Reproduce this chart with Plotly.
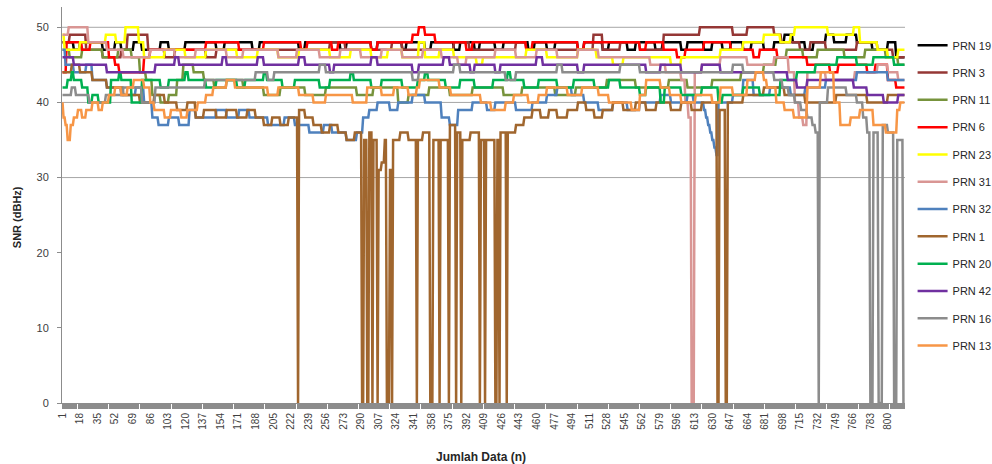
import plotly.graph_objects as go

N = 816
categories = list(range(1, N + 1))
tick_values = list(range(1, 801, 17))
tick_labels = [str(v) for v in tick_values]

# Step readings: [start index, SNR value] - value holds until the next start index
prn19_steps = [[1,48],[12,47],[18,48],[40,47],[52,48],[58,47],[70,48],[78,47],[96,48],[104,47],[120,48],[150,47],[158,48],[185,47],[192,48],[230,47],[236,48],[270,47],[276,48],[300,47],[306,48],[330,47],[334,48],[352,47],[358,48],[380,47],[386,48],[400,47],[405,48],[420,47],[428,48],[452,47],[458,48],[470,47],[478,48],[500,47],[506,48],[524,47],[530,48],[548,47],[556,48],[575,47],[582,48],[600,47],[606,48],[622,47],[630,48],[640,47],[648,48],[660,47],[668,48],[680,47],[690,48],[700,49],[708,48],[720,47],[728,48],[740,49],[748,48],[760,49],[770,48],[785,47],[800,48],[808,46]]
prn3_steps = [[1,48],[8,49],[24,47],[40,46],[58,47],[64,49],[84,47],[100,46],[110,47],[140,46],[150,47],[260,48],[275,47],[320,48],[330,47],[380,48],[395,47],[440,48],[450,47],[515,49],[524,47],[541,48],[560,47],[583,49],[618,50],[650,49],[664,50],[690,49],[697,48],[715,47],[725,48],[740,47],[770,48],[790,47],[805,46]]
prn11_steps = [[1,47],[8,46],[20,47],[40,46],[55,47],[68,46],[76,44],[82,43],[88,41],[96,40],[104,41],[112,43],[118,45],[128,44],[138,43],[148,42],[160,43],[176,42],[196,41],[212,42],[236,41],[256,42],[286,41],[302,42],[326,40],[336,41],[356,42],[376,41],[398,42],[428,41],[446,42],[478,41],[498,42],[528,43],[556,42],[588,43],[606,42],[630,43],[658,44],[680,45],[692,46],[702,47],[718,46],[732,47],[758,46],[778,47],[798,46],[810,45]]
prn6_steps = [[1,44],[5,48],[20,47],[28,48],[46,46],[52,45],[56,44],[80,46],[86,47],[140,48],[172,47],[196,48],[232,47],[238,48],[262,47],[268,48],[300,47],[306,48],[340,49],[346,50],[352,49],[362,48],[392,47],[398,48],[450,47],[456,48],[500,47],[506,48],[560,47],[566,48],[583,47],[596,46],[604,47],[622,48],[648,47],[670,46],[676,47],[693,46],[722,45],[744,44],[752,45],[780,44],[788,45],[800,43],[808,42]]
prn23_steps = [[1,49],[3,47],[18,48],[43,49],[53,48],[62,50],[75,48],[80,46],[100,47],[120,46],[140,47],[170,46],[190,47],[210,46],[230,47],[260,46],[280,47],[300,46],[316,47],[330,46],[346,48],[352,46],[366,47],[380,46],[402,45],[408,46],[450,47],[470,46],[500,47],[518,46],[534,45],[544,46],[590,45],[600,46],[638,47],[660,48],[680,49],[696,48],[706,49],[710,50],[742,49],[767,50],[773,48],[790,47],[800,46],[810,47]]
prn31_steps = [[1,49],[7,50],[26,48],[44,47],[60,46],[86,47],[110,46],[130,47],[160,46],[176,47],[210,46],[228,47],[250,46],[270,47],[290,46],[310,47],[330,46],[350,47],[368,46],[384,45],[392,46],[420,47],[440,46],[460,47],[480,46],[500,47],[520,46],[570,45],[585,44],[600,43],[604,40],[607,38],[610,0],[613,44],[620,45],[638,46],[664,45],[690,46],[704,44],[710,40],[714,38],[718,37],[722,44],[740,43],[768,44],[790,45],[800,44],[810,43]]
prn32_steps = [[1,47],[4,45],[12,44],[24,45],[30,43],[44,42],[58,41],[72,42],[80,40],[88,38],[94,37],[104,38],[114,37],[124,39],[130,38],[150,39],[160,38],[172,39],[182,38],[200,37],[216,38],[226,37],[240,36],[254,37],[262,36],[276,35],[286,36],[292,38],[298,39],[306,40],[318,39],[326,40],[340,41],[352,40],[368,38],[376,37],[384,39],[398,40],[412,39],[420,40],[440,39],[456,40],[470,41],[480,42],[494,41],[506,40],[520,39],[534,40],[548,39],[560,40],[580,41],[590,40],[606,41],[612,40],[622,39],[624,38],[626,37],[628,36],[630,35],[632,34],[634,33],[636,40],[650,41],[660,43],[670,41],[686,42],[706,41],[720,42],[740,43],[770,44],[800,43]]
prn1_steps = [[1,44],[10,45],[18,44],[30,43],[44,42],[60,41],[76,40],[90,41],[100,40],[112,39],[122,40],[130,38],[138,39],[150,38],[160,39],[170,38],[180,39],[188,38],[196,37],[204,38],[212,37],[220,38],[229,0],[230,39],[236,38],[244,37],[252,36],[260,37],[268,36],[276,35],[284,36],[291,0],[293,35],[296,0],[298,36],[301,0],[302,35],[306,0],[307,31],[310,32],[313,35],[315,0],[318,31],[320,0],[321,35],[328,36],[336,35],[344,0],[345,35],[350,36],[357,0],[360,35],[366,0],[367,35],[375,0],[376,37],[382,0],[383,36],[387,0],[388,35],[396,36],[405,0],[406,35],[410,0],[411,35],[420,0],[422,35],[424,0],[425,36],[431,0],[432,36],[440,37],[448,38],[456,39],[464,38],[472,39],[480,38],[490,39],[500,40],[508,39],[516,38],[524,39],[534,40],[544,39],[556,40],[566,39],[576,40],[590,39],[600,40],[610,39],[620,40],[635,0],[637,39],[643,0],[645,40],[660,41],[680,42],[700,41],[720,40],[750,41],[780,40],[800,41]]
prn20_steps = [[1,42],[6,43],[10,44],[12,43],[20,42],[26,40],[30,41],[36,40],[48,43],[56,44],[58,43],[68,40],[78,43],[96,42],[104,43],[120,44],[123,43],[140,42],[150,43],[170,42],[178,43],[196,44],[199,43],[214,42],[226,43],[250,42],[260,43],[280,44],[283,43],[300,42],[310,43],[330,42],[345,43],[352,44],[355,43],[372,42],[386,43],[400,42],[418,43],[432,44],[435,43],[448,42],[462,43],[480,42],[496,43],[516,42],[530,43],[541,42],[560,41],[566,42],[580,40],[584,42],[600,41],[620,42],[636,40],[640,41],[660,42],[676,41],[696,43],[712,44],[730,45],[751,46],[770,45],[786,46],[806,45]]
prn42_steps = [[1,46],[12,45],[44,44],[91,45],[110,46],[114,45],[156,46],[160,45],[190,46],[196,45],[230,46],[236,45],[260,44],[264,45],[300,46],[306,45],[340,44],[346,45],[370,46],[376,45],[396,44],[400,45],[420,44],[425,45],[460,46],[466,45],[500,44],[506,45],[566,44],[580,45],[600,44],[620,45],[638,44],[703,43],[712,42],[722,43],[767,42],[780,41],[796,40],[810,41]]
prn16_steps = [[1,41],[10,42],[14,41],[27,40],[43,41],[60,42],[78,40],[91,42],[139,43],[188,44],[200,43],[206,44],[250,45],[256,44],[340,43],[346,44],[380,45],[386,44],[430,43],[440,44],[480,45],[485,44],[541,45],[560,44],[650,45],[660,44],[690,43],[698,42],[704,41],[710,40],[716,39],[722,38],[727,37],[730,36],[733,0],[734,40],[742,42],[760,41],[770,40],[776,38],[780,36],[783,0],[786,36],[791,0],[795,37],[800,36],[806,0],[809,35],[815,0]]
prn13_steps = [[1,40],[2,38],[4,37],[6,35],[9,37],[12,38],[16,39],[20,38],[24,39],[30,40],[36,39],[40,40],[46,41],[52,42],[58,41],[64,42],[70,43],[80,42],[86,40],[90,39],[100,38],[106,39],[116,38],[122,39],[132,40],[140,41],[147,42],[160,43],[168,42],[200,41],[210,42],[230,41],[244,40],[256,41],[282,40],[296,42],[310,41],[322,42],[336,41],[344,42],[347,43],[366,42],[377,41],[406,40],[416,39],[430,40],[438,41],[452,40],[462,41],[470,42],[490,41],[504,42],[520,41],[530,40],[552,39],[560,41],[566,43],[580,42],[589,41],[600,40],[614,41],[630,40],[638,42],[650,41],[664,43],[672,44],[680,43],[683,42],[692,40],[700,39],[709,38],[722,42],[735,44],[748,40],[754,37],[764,38],[773,39],[786,37],[798,36],[809,39],[812,40]]

series_names = ["PRN 19", "PRN 3", "PRN 11", "PRN 6", "PRN 23", "PRN 31",
                "PRN 32", "PRN 1", "PRN 20", "PRN 42", "PRN 16", "PRN 13"]
series_steps = [prn19_steps, prn3_steps, prn11_steps, prn6_steps, prn23_steps, prn31_steps,
                prn32_steps, prn1_steps, prn20_steps, prn42_steps, prn16_steps, prn13_steps]
series_colors = ["#000000", "#953735", "#77933C", "#FF0000", "#FFFF00", "#D99694",
                 "#4F81BD", "#A0662E", "#00B050", "#7030A0", "#8C8C8C", "#F79646"]


def expand(steps, n):
    vals = []
    for k, (start, v) in enumerate(steps):
        end = steps[k + 1][0] if k + 1 < len(steps) else n + 1
        vals.extend([v] * (end - start))
    return vals


FONT = "Liberation Sans, Arial, sans-serif"
fig = go.Figure()
for name, steps, color in zip(series_names, series_steps, series_colors):
    fig.add_trace(go.Scatter(
        x=categories, y=expand(steps, N), mode="lines", name=name,
        legendgroup=name, line=dict(color=color, width=2.5),
    ))

for gv in [30, 40, 50]:
    fig.add_shape(type="line", xref="paper", x0=0, x1=1, yref="y", y0=gv, y1=gv,
                  line=dict(color="#A6A6A6", width=1), layer="below")

fig.update_layout(
    width=992, height=464,
    margin=dict(l=62, r=87, t=7, b=61, autoexpand=False),
    plot_bgcolor="white", paper_bgcolor="white",
    font=dict(family=FONT, color="#404040"),
    legend=dict(x=1.009, y=0.94, xanchor="left", yanchor="top", maxheight=420,
                font=dict(size=11, color="#262626", family=FONT),
                tracegroupgap=8.3, bgcolor="rgba(0,0,0,0)"),
    xaxis=dict(range=[0.5, N + 0.5], tickmode="array", tickvals=tick_values, ticktext=tick_labels,
               tickangle=-90, ticks="outside", ticklen=5, tickcolor="#8C8C8C",
               showline=True, linecolor="#8C8C8C", linewidth=1, showgrid=False, zeroline=False,
               tickfont=dict(size=10, color="#404040"),
               minor=dict(tickmode="linear", tick0=1, dtick=1, ticks="outside", ticklen=5,
                          tickcolor="#8C8C8C", tickwidth=1, showgrid=False)),
    yaxis=dict(range=[0, 52.7], tickvals=[0, 10, 20, 30, 40, 50], showgrid=False, zeroline=False,
               showline=True, linecolor="#8C8C8C", linewidth=1, ticks="outside", ticklen=4,
               tickcolor="#8C8C8C", tickfont=dict(size=11, color="#404040"),
               ticklabelstandoff=6),
    annotations=[
        dict(text="<b>SNR (dBHz)</b>", xref="paper", yref="paper", x=-0.053, y=0.47,
             xanchor="center", yanchor="middle",
             textangle=-90, showarrow=False, font=dict(size=11, color="#262626")),
        dict(text="<b>Jumlah Data (n)</b>", xref="paper", yref="paper", x=0.497, y=-0.136,
             xanchor="center", yanchor="middle",
             showarrow=False, font=dict(size=12, color="#262626")),
    ],
)

fig.write_html("out.html", config={"displayModeBar": False},
               post_script="document.body.style.margin='0';")
